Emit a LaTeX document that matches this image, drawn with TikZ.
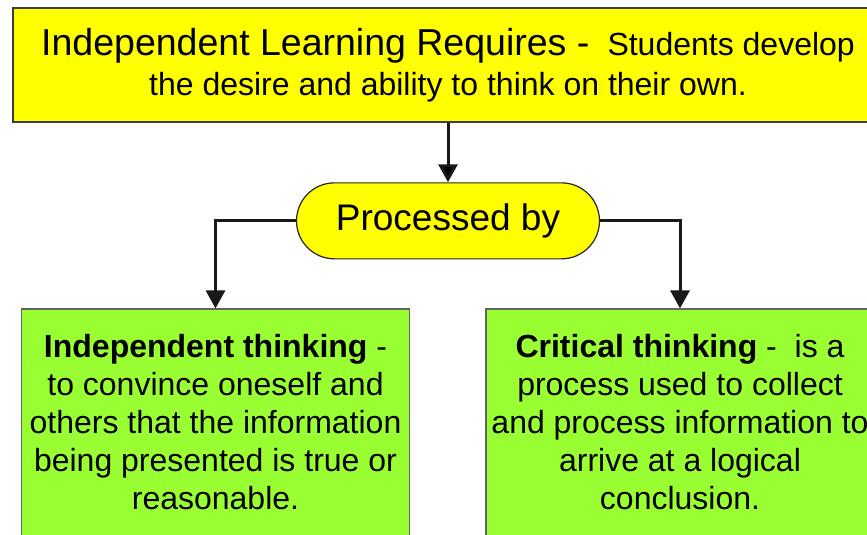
\documentclass[tikz,border=0pt]{standalone}
\usepackage{fontspec}
\setmainfont{Liberation Sans}
\usetikzlibrary{shapes,arrows.meta}
\usetikzlibrary{positioning}
\definecolor{reqyellow}{RGB}{255,255,0}
\definecolor{thinkgreen}{RGB}{153,255,51}
\definecolor{edgegray}{RGB}{60,60,60}

\begin{document}
\begin{tikzpicture}[x=1pt,y=-1pt,>={Triangle[width=19pt,length=18pt]},line width=3pt,
  req box/.style={draw=edgegray,line width=2.5pt,fill=reqyellow,minimum width=870pt,minimum height=114pt,align=center,inner sep=0pt,font=\fontsize{32}{39.5}\selectfont},
  process node/.style={draw=black!85,line width=1.2pt,fill=reqyellow,rounded corners=38pt,minimum width=303pt,minimum height=76pt,font=\fontsize{37}{40}\selectfont},
  think box/.style={draw=edgegray!80,line width=1.6pt,fill=thinkgreen,minimum width=388pt,align=center,inner xsep=0pt,inner ysep=25pt,text depth=200pt,font=\fontsize{32}{38}\selectfont}]

  \useasboundingbox (0,0) rectangle (867,535);
  \clip (0,0) rectangle (867,535);

  \node[req box] (req) at (448,65) {{\fontsize{37.5}{39.5}\selectfont Independent Learning Requires -}\hspace{18pt}Students develop\\the desire and ability to think on their own.};
  \node[process node] (pill) [below=59pt of req] {Processed by};
  \node[think box] (indep) [below=49pt of pill, xshift=-232.5pt] {\textbf{Independent thinking} -\\to convince oneself and\\others that the information\\being presented is true or\\reasonable.};
  \node[think box] (crit) [below=49pt of pill, xshift=232pt] {\textbf{Critical thinking} -\ \ is a\\process used to collect\\and process information to\\arrive at a logical\\conclusion.};

  \path[->,draw=black!90] (req) edge (pill);
  \draw[->,black!90] (pill.west) -| (indep.north);
  \draw[->,black!90] (pill.east) -| (crit.north);
\end{tikzpicture}
\end{document}
